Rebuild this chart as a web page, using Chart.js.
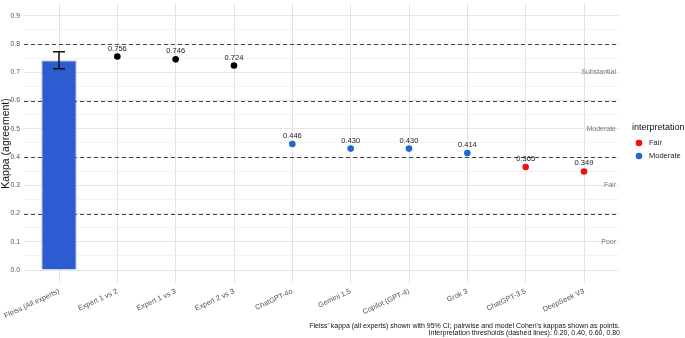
<!DOCTYPE html>
<html>
<head>
<meta charset="utf-8">
<script src="https://cdn.jsdelivr.net/npm/chart.js@4.4.1/dist/chart.umd.min.js"></script>
<style>
  html, body { margin: 0; padding: 0; background: #fff; }
  #wrap { width: 685px; height: 338px; position: relative; }
</style>
</head>
<body>
<div id="wrap"><canvas id="myChart" width="685" height="338"></canvas></div>
<script>
'use strict';

// DANE
const categories = ['Fleiss (All experts)', 'Expert 1 vs 2', 'Expert 1 vs 3', 'Expert 2 vs 3', 'ChatGPT-4o',
  'Gemini 1.5', 'Copilot (GPT-4)', 'Grok 3', 'ChatGPT-3.5', 'DeepSeek V3'];
const fleissKappa = [0.742, null, null, null, null, null, null, null, null, null];
const fleissCiLow = 0.713;
const fleissCiHigh = 0.773;
const expertPairs = [null, 0.756, 0.746, 0.724, null, null, null, null, null, null];
const moderateKappa = [null, null, null, null, 0.446, 0.430, 0.430, 0.414, null, null];
const fairKappa = [null, null, null, null, null, null, null, null, 0.365, 0.349];
const thresholds = [0.2, 0.4, 0.6, 0.8];
const bandLabels = ['Poor', 'Fair', 'Moderate', 'Substantial'];
const bandCenters = [0.1, 0.3, 0.5, 0.7];
const yTicks = [0, 0.05, 0.1, 0.15, 0.2, 0.25, 0.3, 0.35, 0.4, 0.45, 0.5, 0.55, 0.6, 0.65, 0.7, 0.75, 0.8, 0.85, 0.9];

const FONT = '"Liberation Sans", Arial, sans-serif';
const RED = '#ee1111';
const BLUE = '#1f67d2';

// zamiana tablicy na punkty {x, y} (x = indeks kategorii)
function toPoints(arr) {
  const out = [];
  arr.forEach(function(v, i) {
    if (v != null) out.push({ x: i, y: v });
  });
  return out;
}

// PLUGIN - linie progowe, etykiety, CI, legenda, podpis
const extras = {
  id: 'extras',
  beforeDatasetsDraw(chart) {
    const ctx = chart.ctx, a = chart.chartArea, y = chart.scales.y;
    ctx.save();
    ctx.strokeStyle = '#444';
    ctx.lineWidth = 1;
    ctx.setLineDash([4, 3]);
    thresholds.forEach(function(t) {
      const py = Math.round(y.getPixelForValue(t)) + 0.5;
      ctx.beginPath();
      ctx.moveTo(a.left, py);
      ctx.lineTo(a.right, py);
      ctx.stroke();
    });
    ctx.setLineDash([]);
    ctx.fillStyle = '#777';
    ctx.font = '7px ' + FONT;
    ctx.textAlign = 'right';
    ctx.textBaseline = 'middle';
    bandLabels.forEach(function(lbl, i) {
      ctx.fillText(lbl, a.right - 3, y.getPixelForValue(bandCenters[i]));
    });
    ctx.restore();
  },
  afterDatasetsDraw(chart) {
    const ctx = chart.ctx, y = chart.scales.y;
    ctx.save();
    // error bar
    const bar = chart.getDatasetMeta(0).data[0];
    const yl = y.getPixelForValue(fleissCiLow), yh = y.getPixelForValue(fleissCiHigh);
    ctx.strokeStyle = '#111';
    ctx.lineWidth = 1.5;
    ctx.beginPath();
    ctx.moveTo(bar.x, yl); ctx.lineTo(bar.x, yh);
    ctx.moveTo(bar.x - 6, yl); ctx.lineTo(bar.x + 6, yl);
    ctx.moveTo(bar.x - 6, yh); ctx.lineTo(bar.x + 6, yh);
    ctx.stroke();
    // etykiety punktow
    ctx.fillStyle = '#222';
    ctx.font = '7.5px ' + FONT;
    ctx.textAlign = 'center';
    ctx.textBaseline = 'alphabetic';
    [1, 2, 3].forEach(function(di) {
      const ds = chart.data.datasets[di];
      chart.getDatasetMeta(di).data.forEach(function(pt, i) {
        ctx.fillText(ds.data[i].y.toFixed(3), pt.x, pt.y - 6);
      });
    });
    // legenda
    ctx.fillStyle = '#111';
    ctx.font = '9px ' + FONT;
    ctx.textAlign = 'left';
    ctx.textBaseline = 'middle';
    ctx.fillText('interpretation', 632, 128);
    ctx.font = '7.5px ' + FONT;
    [['Fair', RED, 143], ['Moderate', BLUE, 156]].forEach(function(it) {
      ctx.fillStyle = it[1];
      ctx.beginPath();
      ctx.arc(639, it[2], 3.3, 0, Math.PI * 2);
      ctx.fill();
      ctx.fillStyle = '#222';
      ctx.fillText(it[0], 649, it[2]);
    });
    // podpis
    ctx.fillStyle = '#111';
    ctx.font = '7px ' + FONT;
    ctx.textAlign = 'right';
    ctx.fillText("Fleiss' kappa (all experts) shown with 95% CI; pairwise and model Cohen's kappas shown as points.", 620, 326);
    ctx.fillText('Interpretation thresholds (dashed lines): 0.20, 0.40, 0.60, 0.80', 620, 333.5);
    ctx.restore();
  }
};

const ctx = document.getElementById('myChart').getContext('2d');

const chart = new Chart(ctx, {
  type: 'bar',
  data: {
    datasets: [{
      label: 'Fleiss',
      data: toPoints(fleissKappa),
      backgroundColor: '#2c5ccf',
      borderColor: '#6a8fdc',
      borderWidth: 1,
      barPercentage: 0.6,
      categoryPercentage: 1,
      order: 4
    },
    {
      type: 'line',
      label: 'Pairs',
      data: toPoints(expertPairs),
      showLine: false,
      pointRadius: 3.3,
      pointBackgroundColor: '#000',
      pointBorderWidth: 0,
      order: 1
    },
    {
      type: 'line',
      label: 'Moderate',
      data: toPoints(moderateKappa),
      showLine: false,
      pointRadius: 3.3,
      pointBackgroundColor: BLUE,
      pointBorderWidth: 0,
      order: 1
    },
    {
      type: 'line',
      label: 'Fair',
      data: toPoints(fairKappa),
      showLine: false,
      pointRadius: 3.3,
      pointBackgroundColor: RED,
      pointBorderWidth: 0,
      order: 1
    }]
  },
  options: {
    responsive: false,
    animation: false,
    layout: { padding: { top: 2, right: 66, left: 0, bottom: 0 } },
    plugins: { legend: { display: false }, tooltip: { enabled: false } },
    scales: {
      x: {
        type: 'linear',
        min: -0.6,
        max: categories.length - 1 + 0.6,
        offset: false,
        afterBuildTicks: function(scale) {
          scale.ticks = categories.map(function(c, i) { return { value: i }; });
        },
        grid: { offset: false, color: '#e2e2e2', drawTicks: false },
        border: { display: false },
        ticks: {
          color: '#555',
          font: { family: FONT, size: 7.3 },
          maxRotation: 25,
          minRotation: 25,
          padding: 4,
          autoSkip: false,
          callback: function(v) { return categories[v]; }
        },
        afterFit: function(scale) {
          scale.height = 55;
          scale.paddingLeft = 0;
          scale.paddingRight = 0;
        }
      },
      y: {
        min: -0.046,
        max: 0.942,
        afterBuildTicks: function(scale) {
          scale.ticks = yTicks.map(function(v) { return { value: v }; });
        },
        grid: {
          drawTicks: false,
          color: function(c) {
            const v = c.tick ? c.tick.value : 0;
            return Math.abs(v * 10 - Math.round(v * 10)) < 1e-6 ? '#e6e6e6' : '#f3f3f3';
          }
        },
        border: { display: false },
        ticks: {
          color: '#555',
          font: { family: FONT, size: 6.8 },
          padding: 4,
          callback: function(v) {
            return Math.abs(v * 10 - Math.round(v * 10)) < 1e-6 ? v.toFixed(1) : '';
          }
        },
        title: {
          display: true,
          text: 'Kappa (agreement)',
          color: '#111',
          font: { family: FONT, size: 10.5 },
          padding: { top: 0, bottom: 0 }
        },
        afterFit: function(scale) {
          scale.width = 24;
          scale.paddingTop = 0;
          scale.paddingBottom = 0;
        }
      }
    }
  },
  plugins: [extras]
});
</script>
</body>
</html>
